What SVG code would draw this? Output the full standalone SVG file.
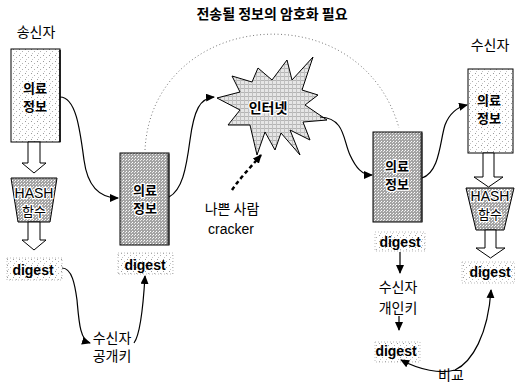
<svg xmlns="http://www.w3.org/2000/svg" width="515" height="385" viewBox="0 0 515 385">
<defs>
<pattern id="stip" width="6" height="6" patternUnits="userSpaceOnUse">
<rect width="6" height="6" fill="#ffffff"/>
<rect x="1" y="1" width="1" height="1" fill="#9a9a9a"/>
<rect x="4" y="3" width="1" height="1" fill="#b0b0b0"/>
<rect x="2" y="5" width="1" height="1" fill="#c4c4c4"/>
</pattern>
<pattern id="grid" width="3" height="3" patternUnits="userSpaceOnUse">
<rect width="3" height="3" fill="#a4a4a4"/>
<rect x="0" y="0" width="1" height="1" fill="#ffffff"/>
<rect x="2" y="1" width="1" height="1" fill="#e8e8e8"/>
</pattern>
<pattern id="lgrid" width="4" height="4" patternUnits="userSpaceOnUse">
<rect width="4" height="4" fill="#e6e6e6"/>
<rect x="0" y="0" width="4" height="1" fill="#b4b4b4"/>
<rect x="0" y="0" width="1" height="4" fill="#c0c0c0"/>
</pattern>
<marker id="ah" markerWidth="9" markerHeight="8" refX="8" refY="4" orient="auto-start-reverse" markerUnits="userSpaceOnUse">
<path d="M0,0 L9,4 L0,8 Z" fill="#000"/>
</marker>
</defs>
<style>
text{font-family:"Noto Sans CJK KR","Liberation Sans",sans-serif;font-size:14px;fill:#000;text-anchor:middle}
.b{font-weight:bold}
.h{stroke:#fff;stroke-width:2.5px;paint-order:stroke;stroke-linejoin:round}
.en{font-family:"Liberation Sans","Noto Sans CJK KR",sans-serif}
.box{stroke:#000;stroke-width:1}
.lbl{fill:url(#stip);stroke:#bbb;stroke-width:1;stroke-dasharray:1 2}
.hol{fill:#fff;stroke:#000;stroke-width:1}
.c{fill:none;stroke:#000;stroke-width:1.2}
.bx{font-size:13px}
</style>

<text x="272" y="19" class="b">전송될 정보의 암호화 필요</text>

<g id="sender">
<text x="36" y="37">송신자</text>
<rect x="11" y="49" width="49" height="93" fill="url(#stip)" class="box"/>
<line x1="60" y1="50" x2="60" y2="142" stroke="#000" stroke-width="1.5"/>
<text x="35" y="93" class="b bx">의료</text>
<text x="35" y="111" class="b bx">정보</text>
</g>

<g id="hash-left">
<polygon points="28,142 40,142 40,163 46,163 34,173 22,163 28,163" class="hol"/>
<polygon points="11,178 57,178 50,222 18,222" fill="url(#grid)" class="box"/>
<text x="34" y="198" class="en h">HASH</text>
<text x="34" y="216" class="h bx">함수</text>
<polygon points="28,222 40,222 40,240 46,240 34,250 22,240 28,240" class="hol"/>
</g>

<g id="digest-left">
<rect x="7" y="258" width="55" height="22" class="lbl"/>
<text x="33" y="275" class="en b">digest</text>
</g>

<g id="pubkey">
<text x="112" y="343">수신자</text>
<text x="112" y="361">공개키</text>
</g>

<g id="msg-mid">
<rect x="120" y="153" width="49" height="92" fill="url(#grid)" class="box"/>
<line x1="168.5" y1="154" x2="168.5" y2="245" stroke="#333" stroke-width="2"/>
<text x="145" y="195" class="b h bx">의료</text>
<text x="145" y="213" class="b h bx">정보</text>
</g>

<g id="digest-mid">
<rect x="118" y="253" width="55" height="21" class="lbl"/>
<text x="145" y="270" class="en b">digest</text>
</g>

<g id="internet">
<polygon points="217,98 240,92 232,76 252,82 258,68 272,80 287,60 292,80 313,57 302,90 318,95 305,105 327,120 303,122 310,140 290,130 300,155 281,133 275,150 265,132 257,155 250,125 228,125 240,110" fill="url(#lgrid)" stroke="#000" stroke-width="1"/>
<text x="268" y="113" class="b h">인터넷</text>
</g>

<g id="cracker">
<text x="232" y="214">나쁜 사람</text>
<text x="231" y="234" class="en" font-size="15">cracker</text>
</g>

<g id="msg-recv">
<rect x="373" y="132" width="49" height="90" fill="url(#grid)" class="box"/>
<line x1="421.5" y1="133" x2="421.5" y2="222" stroke="#333" stroke-width="2"/>
<text x="397" y="171" class="b h bx">의료</text>
<text x="397" y="189" class="b h bx">정보</text>
</g>

<g id="digest-recv">
<rect x="375" y="232" width="50" height="19" class="lbl"/>
<text x="400" y="247" class="en b">digest</text>
</g>

<g id="privkey">
<text x="398" y="292">수신자</text>
<text x="398" y="313">개인키</text>
</g>

<g id="digest-dec">
<rect x="375" y="342" width="45" height="20" class="lbl"/>
<text x="396" y="356" class="en b">digest</text>
</g>

<g id="compare">
<text x="451" y="380">비교</text>
</g>

<g id="receiver">
<text x="490" y="50">수신자</text>
<rect x="468" y="69" width="45" height="84" fill="url(#stip)" class="box"/>
<text x="489" y="105" class="b bx">의료</text>
<text x="489" y="123" class="b bx">정보</text>
</g>

<g id="hash-right">
<polygon points="483,153 494,153 494,177 503,177 488.5,187 474,177 483,177" class="hol"/>
<polygon points="466,188 514,188 504,230 476,230" fill="url(#grid)" class="box"/>
<text x="490" y="201" class="en h">HASH</text>
<text x="490" y="219" class="h bx">함수</text>
<polygon points="485,230 496,230 496,248 505,248 490.5,258 476,248 485,248" class="hol"/>
</g>

<g id="digest-right">
<rect x="462" y="262" width="53" height="21" class="lbl"/>
<text x="490" y="277" class="en b">digest</text>
</g>

<g id="connectors">
<path d="M145,150 C152,10 360,-10 399,128" fill="none" stroke="#777" stroke-width="1" stroke-dasharray="1 2.5"/>
<path d="M60,97 C76,97 80,130 84,160 C88,190 102,198 118,198" class="c" marker-end="url(#ah)"/>
<path d="M169,197 C182,190 186,170 190,140 C194,110 200,98 214,97" class="c" marker-end="url(#ah)"/>
<path d="M320,117 C345,118 343,140 350,155 C356,168 362,175 372,175" class="c" marker-end="url(#ah)"/>
<path d="M422,178 C440,172 440,140 445,125 C450,112 458,107 467,105" class="c" marker-end="url(#ah)"/>
<path d="M232,190 C240,178 250,168 261,155" fill="none" stroke="#000" stroke-width="2.5" stroke-dasharray="4 3" marker-end="url(#ah)"/>
<path d="M62,268 C72,268 75,285 77,300 C79,322 80,340 90,343" class="c" marker-end="url(#ah)"/>
<path d="M134,343 C140,335 143,310 145,276" class="c" marker-end="url(#ah)"/>
<line x1="400" y1="252" x2="400" y2="273" class="c" marker-end="url(#ah)"/>
<line x1="399" y1="316" x2="399" y2="330" class="c" marker-end="url(#ah)"/>
<path d="M401,360 C420,370 440,374 455,370 C472,362 488,335 491,290" class="c" marker-start="url(#ah)" marker-end="url(#ah)"/>
</g>
</svg>
